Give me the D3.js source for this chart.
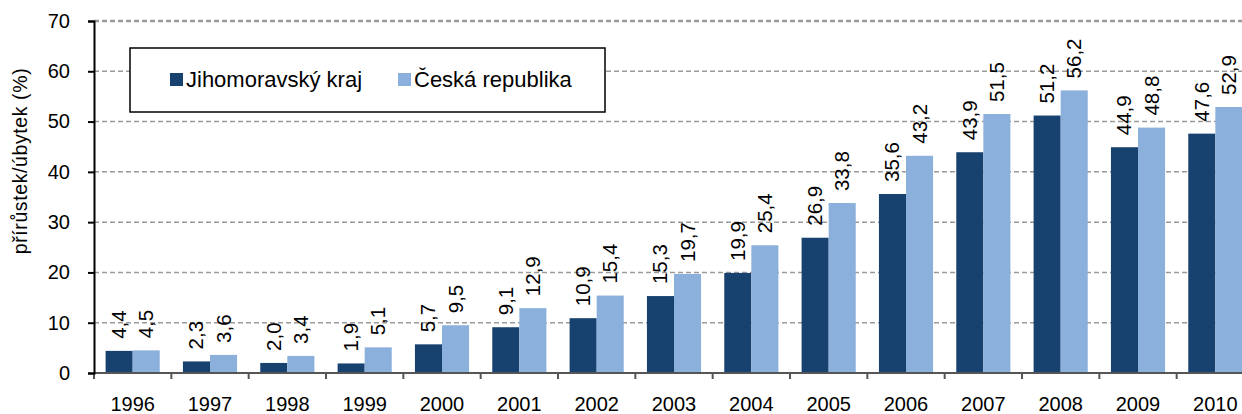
<!DOCTYPE html>
<html>
<head>
    <meta charset="UTF-8">
    <title>Chart</title>
    <style>
        body { margin: 0; background-color: #FFFFFF; }
        svg { display: block; font-family: "Liberation Sans", Arial, sans-serif; }
    </style>
</head>
<body>
    <div id="graph-container"></div>
    <script src="https://cdn.jsdelivr.net/npm/d3@7"></script>
    <script>
        let years = ["1996", "1997", "1998", "1999", "2000", "2001", "2002", "2003",
                     "2004", "2005", "2006", "2007", "2008", "2009", "2010"];
        let seriesNames = ["Jihomoravský kraj", "Česká republika"];
        let jmk = [4.4, 2.3, 2.0, 1.9, 5.7, 9.1, 10.9, 15.3, 19.9, 26.9, 35.6, 43.9, 51.2, 44.9, 47.6];
        let cr = [4.5, 3.6, 3.4, 5.1, 9.5, 12.9, 15.4, 19.7, 25.4, 33.8, 43.2, 51.5, 56.2, 48.8, 52.9];
        let yTicks = [0, 10, 20, 30, 40, 50, 60, 70];
        let colors = ["#17416f", "#8cb0dc"];

        let width = 1242, height = 414;
        let margin = { top: 21, right: -12, bottom: 41, left: 94 };
        let innerW = width - margin.left - margin.right,
            innerH = height - margin.top - margin.bottom;

        let svg = d3.select("#graph-container").append("svg")
            .attr("width", width)
            .attr("height", height);
        let g = svg.append("g")
            .attr("transform", "translate(" + margin.left + "," + margin.top + ")");

        let x = d3.scaleBand().domain(years).range([0, innerW]).paddingInner(0.3).paddingOuter(0.15);
        let x1 = d3.scaleBand().domain([0, 1]).range([0, x.bandwidth()]);
        let y = d3.scaleLinear().domain([0, 70]).range([innerH, 0]);
        let step = innerW / years.length;

        // gridlines
        g.selectAll(".grid").data(yTicks.slice(1)).enter().append("line")
            .attr("x1", 0).attr("x2", innerW)
            .attr("y1", d => y(d)).attr("y2", d => y(d))
            .attr("stroke", "#9a9a9a").attr("stroke-width", d => d === 70 ? 2.5 : 1.5)
            .attr("stroke-dasharray", "5,3");

        // bars
        let data = years.map((yr, i) => ({ yr: yr, vals: [jmk[i], cr[i]] }));
        let groups = g.selectAll(".yr").data(data).enter().append("g")
            .attr("transform", d => "translate(" + x(d.yr) + ",0)");
        groups.selectAll("rect").data(d => d.vals.map((v, k) => ({ v: v, k: k }))).enter().append("rect")
            .attr("x", d => x1(d.k))
            .attr("y", d => y(d.v))
            .attr("width", x1.bandwidth())
            .attr("height", d => innerH - y(d.v))
            .attr("fill", d => colors[d.k]);
        groups.selectAll("text").data(d => d.vals.map((v, k) => ({ v: v, k: k }))).enter().append("text")
            .attr("transform", d => "translate(" + (x1(d.k) + x1.bandwidth() / 2 + 7) + "," + (y(d.v) - 12) + ") rotate(-90)")
            .attr("font-size", 20.5)
            .attr("fill", "#000")
            .text(d => d.v.toFixed(1).replace(".", ","));

        // x axis
        let xAxis = g.append("g").attr("transform", "translate(0," + innerH + ")");
        xAxis.append("line").attr("x1", 0).attr("x2", innerW)
            .attr("stroke", "#555").attr("stroke-width", 2);
        xAxis.selectAll(".tk").data(d3.range(years.length + 1)).enter().append("line")
            .attr("x1", d => d * step).attr("x2", d => d * step)
            .attr("y1", 0).attr("y2", 6)
            .attr("stroke", "#555").attr("stroke-width", 2);
        xAxis.selectAll(".lbl").data(years).enter().append("text")
            .attr("x", d => x(d) + x.bandwidth() / 2)
            .attr("y", 38)
            .attr("text-anchor", "middle")
            .attr("font-size", 20)
            .text(d => d);

        // y axis
        let yAxis = g.append("g").call(d3.axisLeft(y).tickValues(yTicks).tickSize(6).tickPadding(18));
        yAxis.select(".domain").attr("stroke", "#000").attr("stroke-width", 2);
        yAxis.selectAll(".tick line").attr("stroke", "#000").attr("stroke-width", 2);
        yAxis.selectAll(".tick text").attr("font-size", 20).attr("font-family", "Liberation Sans, Arial, sans-serif").attr("fill", "#000");

        svg.append("text")
            .attr("transform", "translate(27,161) rotate(-90)")
            .attr("text-anchor", "middle")
            .attr("font-size", 19.5)
            .attr("letter-spacing", 0.6)
            .text("přírůstek/úbytek (%)");

        // legend
        let lg = svg.append("g").attr("transform", "translate(130,48)");
        lg.append("rect").attr("width", 475).attr("height", 64)
            .attr("fill", "#fff").attr("stroke", "#000").attr("stroke-width", 1.5);
        let lx = [40, 268];
        seriesNames.forEach((n, i) => {
            lg.append("rect").attr("x", lx[i]).attr("y", 25).attr("width", 13).attr("height", 13).attr("fill", colors[i]);
            lg.append("text").attr("x", lx[i] + 16).attr("y", 39).attr("font-size", 22).text(n);
        });
    </script>
</body>
</html>
